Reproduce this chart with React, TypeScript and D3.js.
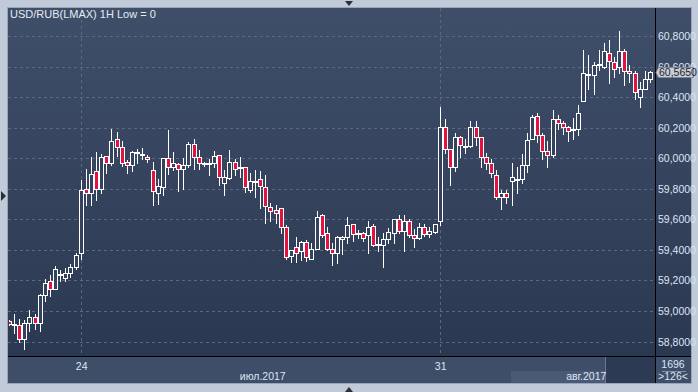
import React from "react";
import * as d3 from "d3";

const title = "USD/RUB(LMAX) 1H Low = 0";

const opens = [
  58.934, 58.908, 58.906, 58.818, 58.919, 58.958, 58.919, 59.102, 59.194, 59.146,
  59.237, 59.216, 59.250, 59.290, 59.377, 59.796, 59.770, 59.914, 59.796, 60.014,
  59.971, 60.128, 60.075, 59.975, 59.957, 60.032, 60.019, 60.010, 59.923, 59.770,
  59.813, 60.001, 59.940, 59.962, 59.927, 59.954, 60.093, 60.006, 59.967, 59.967,
  59.967, 60.019, 59.836, 59.870, 59.975, 59.940, 59.940, 59.792, 59.853, 59.862,
  59.810, 59.682, 59.661, 59.674, 59.548, 59.360, 59.421, 59.390, 59.451, 59.342,
  59.408, 59.626, 59.508, 59.404, 59.381, 59.469, 59.482, 59.569, 59.508, 59.508,
  59.499, 59.556, 59.434, 59.430, 59.473, 59.512, 59.604, 59.521, 59.587, 59.495,
  59.478, 59.548, 59.504, 59.517, 59.587, 60.202, 60.058, 59.940, 60.137, 60.075,
  60.080, 60.206, 60.141, 60.010, 59.967, 59.892, 59.748, 59.770, 59.849, 59.866,
  59.862, 59.954, 60.124, 60.276, 60.150, 60.045, 60.023, 60.259, 60.232, 60.202,
  60.189, 60.189, 60.376, 60.551, 60.547, 60.608, 60.595, 60.691, 60.630, 60.595,
  60.704, 60.569, 60.560, 60.403, 60.451, 60.521,
];

const highs = [
  58.941, 58.980, 58.949, 58.941, 59.006, 58.980, 59.111, 59.211, 59.233, 59.294,
  59.268, 59.281, 59.307, 59.381, 59.857, 59.927, 60.006, 60.041, 60.028, 60.014,
  60.189, 60.172, 60.111, 59.988, 60.045, 60.062, 60.067, 60.019, 59.975, 59.862,
  60.001, 60.185, 60.041, 59.967, 60.001, 60.106, 60.124, 60.054, 59.975, 59.993,
  60.049, 60.019, 59.923, 60.054, 59.997, 60.006, 59.944, 59.905, 59.923, 59.914,
  59.888, 59.705, 59.692, 59.674, 59.561, 59.399, 59.486, 59.460, 59.464, 59.443,
  59.656, 59.635, 59.552, 59.443, 59.491, 59.491, 59.617, 59.569, 59.530, 59.517,
  59.591, 59.569, 59.486, 59.508, 59.543, 59.604, 59.630, 59.626, 59.600, 59.534,
  59.578, 59.569, 59.548, 59.569, 60.337, 60.255, 60.058, 60.163, 60.145, 60.128,
  60.246, 60.242, 60.141, 60.036, 59.993, 59.923, 59.792, 59.792, 59.967, 59.940,
  60.028, 60.163, 60.285, 60.294, 60.163, 60.111, 60.316, 60.281, 60.246, 60.211,
  60.263, 60.346, 60.708, 60.678, 60.630, 60.708, 60.752, 60.774, 60.661, 60.831,
  60.717, 60.608, 60.569, 60.499, 60.569, 60.573,
];

const lows = [
  58.908, 58.856, 58.797, 58.753, 58.871, 58.880, 58.871, 59.067, 59.098, 59.146,
  59.198, 59.198, 59.224, 59.277, 59.338, 59.696, 59.696, 59.726, 59.774, 59.905,
  59.957, 60.014, 59.949, 59.901, 59.918, 59.967, 59.993, 59.975, 59.692, 59.700,
  59.761, 59.897, 59.923, 59.787, 59.796, 59.944, 59.931, 59.931, 59.949, 59.888,
  59.944, 59.823, 59.757, 59.866, 59.892, 59.879, 59.779, 59.779, 59.744, 59.674,
  59.578, 59.587, 59.578, 59.512, 59.338, 59.320, 59.320, 59.334, 59.329, 59.338,
  59.408, 59.486, 59.399, 59.303, 59.316, 59.373, 59.443, 59.460, 59.478, 59.460,
  59.377, 59.425, 59.390, 59.290, 59.443, 59.447, 59.512, 59.394, 59.486, 59.421,
  59.469, 59.491, 59.486, 59.512, 59.565, 60.032, 59.827, 59.918, 60.010, 60.032,
  60.075, 60.088, 59.944, 59.931, 59.879, 59.735, 59.669, 59.709, 59.696, 59.774,
  59.840, 59.910, 60.124, 60.106, 59.997, 59.940, 60.006, 60.193, 60.158, 60.115,
  60.128, 60.154, 60.376, 60.455, 60.420, 60.577, 60.591, 60.490, 60.534, 60.556,
  60.481, 60.499, 60.386, 60.333, 60.451, 60.499,
];

const closes = [
  58.915, 58.915, 58.818, 58.919, 58.962, 58.919, 59.102, 59.185, 59.146, 59.273,
  59.242, 59.246, 59.286, 59.364, 59.792, 59.770, 59.897, 59.796, 60.006, 59.971,
  60.111, 60.075, 59.971, 59.957, 60.041, 60.041, 60.028, 59.993, 59.783, 59.818,
  60.001, 59.940, 59.967, 59.927, 59.954, 60.093, 60.006, 59.967, 59.969, 59.971,
  60.014, 59.875, 59.875, 59.975, 59.931, 59.941, 59.813, 59.849, 59.853, 59.818,
  59.687, 59.656, 59.639, 59.548, 59.355, 59.399, 59.381, 59.451, 59.355, 59.404,
  59.617, 59.499, 59.408, 59.381, 59.482, 59.482, 59.561, 59.504, 59.508, 59.478,
  59.548, 59.434, 59.438, 59.473, 59.517, 59.604, 59.521, 59.587, 59.495, 59.478,
  59.548, 59.504, 59.521, 59.569, 60.202, 60.058, 59.944, 60.137, 60.088, 60.080,
  60.202, 60.141, 60.010, 59.967, 59.901, 59.748, 59.770, 59.744, 59.875, 59.866,
  59.954, 60.119, 60.268, 60.150, 60.045, 60.023, 60.259, 60.232, 60.202, 60.180,
  60.189, 60.298, 60.556, 60.551, 60.608, 60.617, 60.704, 60.634, 60.582, 60.700,
  60.569, 60.556, 60.433, 60.451, 60.521, 60.565,
];

const yTicks = [58.8, 59.0, 59.2, 59.4, 59.6, 59.8, 60.0, 60.2, 60.4, 60.6, 60.8];
const dayTickIndex = [14, 84];
const dayTickLabel = ["24", "31"];
const monthLabel = ["июл.2017", "авг.2017"];
const lastPrice = 60.565;
const barCount = "1696";
const visibleCount = ">126<";

const W = 698;
const H = 392;
const L = 8, T = 8, R = 655, B = 356, AX = 691, BB = 384;
const FONT = "'Liberation Sans', Arial, sans-serif";
const FS = 10.5;
const fmt = (v: number) => v.toFixed(4).replace(".", ",");

export default function App() {
  const x = d3.scaleLinear().domain([14, 84]).range([80.7, 439.7]);
  const y = d3.scaleLinear().domain([58.8, 60.8]).range([341.5, 36]);
  const idx = d3.range(opens.length);
  const lastY = Math.round(y(lastPrice));

  return (
    <div style={{ position: "absolute", left: 0, top: 0 }}>
      <svg width={W} height={H} style={{ display: "block" }}>
        <defs>
          <linearGradient id="bg" x1="0" y1="0" x2="0" y2="1">
            <stop offset="0" stopColor="#3f4e69" />
            <stop offset="1" stopColor="#2b3852" />
          </linearGradient>
          <clipPath id="plotClip">
            <rect x={L + 1} y={T + 1} width={R - L - 1} height={B - T - 1} />
          </clipPath>
        </defs>
        <rect x={0} y={0} width={W} height={H} fill="#c0cad8" />
        <rect x={L} y={T} width={AX - L} height={B - T} fill="url(#bg)" />
        <rect x={L} y={B} width={AX - L} height={BB - B} fill="#3e4d68" />
        <rect x={511} y={371} width={94} height={12} fill="#4a5a76" />
        <rect x={605} y={B} width={R - 605} height={BB - B - 1} fill="#2d3a53" />
        <line x1={605.5} y1={B} x2={605.5} y2={BB - 1} stroke="#6b7891" />
        <rect x={L - 0.5} y={T - 0.5} width={AX - L + 1} height={BB - T} fill="none" stroke="#9aa6b8" />

        {/* grid */}
        {yTicks.map((v) => (
          <line key={"g" + v} x1={L} x2={R} y1={Math.round(y(v)) + 0.5} y2={Math.round(y(v)) + 0.5}
            stroke="#5b6882" strokeDasharray="3,3" />
        ))}
        {dayTickIndex.map((i) => (
          <line key={"v" + i} x1={Math.round(x(i)) + 0.5} x2={Math.round(x(i)) + 0.5} y1={T} y2={B}
            stroke="#5b6882" strokeDasharray="3,3" />
        ))}

        {/* candles */}
        <g clipPath="url(#plotClip)">
          {idx.map((i) => {
            const cx = Math.round(x(i));
            const o = opens[i], c = closes[i];
            const up = c >= o;
            const top = Math.round(y(Math.max(o, c)));
            const bot = Math.round(y(Math.min(o, c)));
            const hh = Math.round(y(highs[i]));
            const ll = Math.round(y(lows[i]));
            return (
              <g key={i}>
                <line x1={cx + 0.5} x2={cx + 0.5} y1={hh} y2={ll + 1} stroke="#ffffff" strokeWidth={1} />
                <rect x={cx - 1.5} y={top + 0.5} width={4} height={Math.max(bot - top, 1)}
                  fill={up ? "#34425d" : "#e3123f"} stroke="#ffffff" strokeWidth={1} />
              </g>
            );
          })}
        </g>

        {/* title */}
        <text x={10} y={18} fill="#e6ebf3" fontSize={11} fontFamily={FONT}>{title}</text>

        {/* frame lines */}
        <line x1={R + 0.5} x2={R + 0.5} y1={T} y2={BB - 1} stroke="#000000" />
        <line x1={L} x2={AX} y1={B + 0.5} y2={B + 0.5} stroke="#000000" />

        {/* y axis labels */}
        {yTicks.map((v) => (
          <text key={"t" + v} x={658} y={y(v) + 4} fill="#dde6f4" fontSize={FS} fontFamily={FONT}>{fmt(v)}</text>
        ))}

        {/* last price label */}
        <path d={`M${R + 1},${lastY + 0.5} L${R + 3.5},${lastY - 4.5} L${693.5},${lastY - 4.5} L${693.5},${lastY + 5.5} L${R + 3.5},${lastY + 5.5} Z`}
          fill="#c9cdd4" stroke="#7d8696" />
        <text x={659} y={lastY + 4} fill="#1b2331" fontSize={FS} fontFamily={FONT}>{fmt(lastPrice)}</text>

        {/* x axis labels */}
        {dayTickIndex.map((i, k) => (
          <text key={"d" + i} x={x(i) + 1} y={370} textAnchor="middle" fill="#dde6f4" fontSize={FS} fontFamily={FONT}>{dayTickLabel[k]}</text>
        ))}
        <text x={x(49.5)} y={380} textAnchor="middle" fill="#dde6f4" fontSize={FS} fontFamily={FONT}>{monthLabel[0]}</text>
        <text x={x(116.5)} y={380} textAnchor="end" fill="#dde6f4" fontSize={FS} fontFamily={FONT}>{monthLabel[1]}</text>

        {/* bar counts */}
        <text x={673} y={368} textAnchor="middle" fill="#dde6f4" fontSize={FS} fontFamily={FONT}>{barCount}</text>
        <line x1={662} x2={686} y1={371.5} y2={371.5} stroke="#8090a8" />
        <text x={673} y={380} textAnchor="middle" fill="#dde6f4" fontSize={FS} fontFamily={FONT}>{visibleCount}</text>

        {/* navigation triangles */}
        <path d="M345,1 L353,1 L349,6 Z" fill="#2a2f38" />
        <path d="M345,392 L353,392 L349,387 Z" fill="#2a2f38" />
        <path d="M1,191 L1,201 L6,196 Z" fill="#2a2f38" />
      </svg>
    </div>
  );
}
